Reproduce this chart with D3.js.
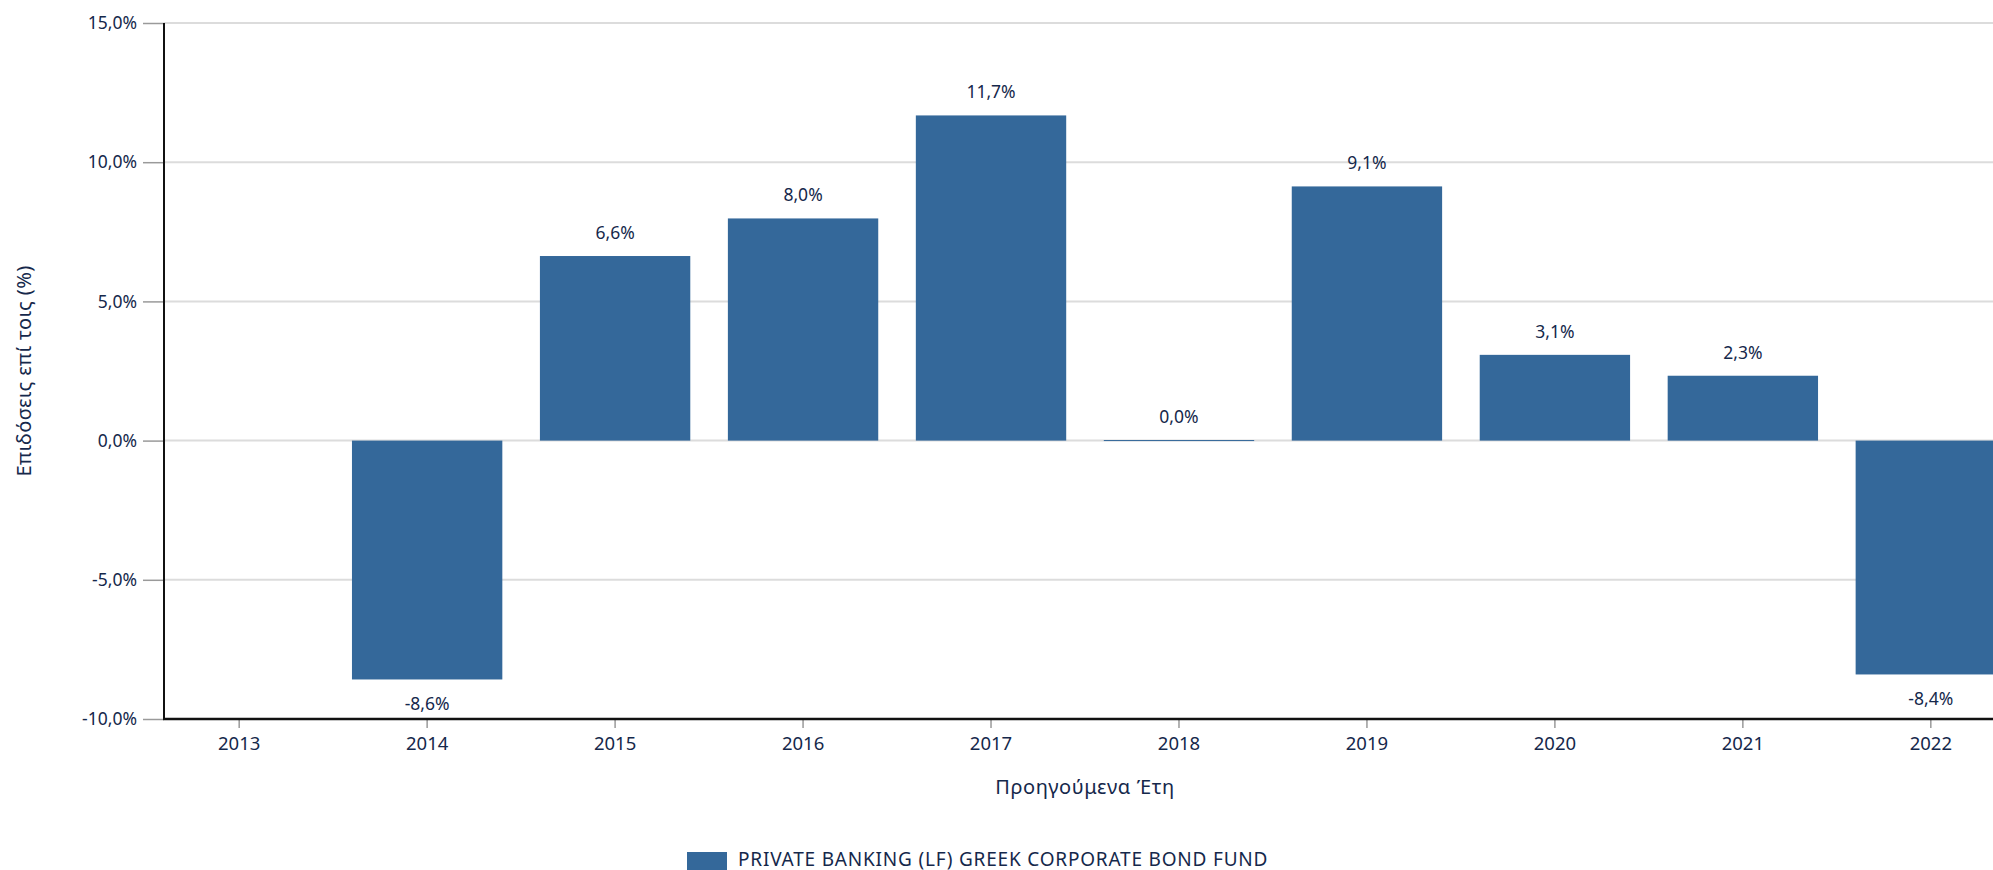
<!DOCTYPE html>
<html>
<head>
<meta charset="utf-8">
<script src="https://cdn.jsdelivr.net/npm/d3@7"></script>
<style>
  html, body { margin: 0; padding: 0; background: #fff; overflow: hidden; }
  svg { display: block; font-family: "Noto Sans", sans-serif; }
</style>
</head>
<body>
<svg id="chart" width="1993" height="870"></svg>
<script>
// data
const years = ["2013", "2014", "2015", "2016", "2017", "2018", "2019", "2020", "2021", "2022"];
const returns = [null, -8.58, 6.63, 7.98, 11.68, 0.02, 9.13, 3.08, 2.33, -8.4];
const yTicks = [-10, -5, 0, 5, 10, 15];
const seriesName = "PRIVATE BANKING (LF) GREEK CORPORATE BOND FUND";
const yTitle = "Επιδόσεις επί τοις (%)";
const xTitle = "Προηγούμενα Έτη";

const barColor = "#34689a";
const textColor = "#15284b";

const margin = { top: 23, left: 164 };
const plotRight = 2006; // the chart runs off the right edge like the original
const plotBottom = 719;

// comma decimals, plain hyphen for negatives
const fmt = (v) => v.toFixed(1).replace(".", ",") + "%";

const svg = d3.select("#chart");

const x = d3
  .scaleBand()
  .domain(years)
  .range([margin.left, plotRight])
  .paddingInner(0.2)
  .paddingOuter(0);

const y = d3.scaleLinear().domain([-10, 15]).range([plotBottom, margin.top]);

// gridlines
svg
  .append("g")
  .selectAll("line")
  .data(yTicks)
  .enter()
  .append("line")
  .attr("x1", margin.left)
  .attr("x2", plotRight)
  .attr("y1", (d) => y(d))
  .attr("y2", (d) => y(d))
  .style("stroke", "#dcdcdc")
  .style("stroke-width", 2);

// bars
const data = years.map((yr, i) => ({ year: yr, value: returns[i] })).filter((d) => d.value !== null);

svg
  .append("g")
  .selectAll("rect")
  .data(data)
  .enter()
  .append("rect")
  .attr("x", (d) => x(d.year))
  .attr("width", x.bandwidth())
  .attr("y", (d) => y(Math.max(0, d.value)))
  .attr("height", (d) => Math.max(1, Math.abs(y(d.value) - y(0))))
  .style("fill", barColor);

// value labels
svg
  .append("g")
  .selectAll("text")
  .data(data)
  .enter()
  .append("text")
  .attr("x", (d) => x(d.year) + x.bandwidth() / 2)
  .attr("y", (d) => (d.value >= 0 ? y(d.value) - 24 : y(d.value) + 24))
  .attr("text-anchor", "middle")
  .attr("dominant-baseline", "central")
  .style("fill", textColor)
  .style("font-size", "17.5px")
  .text((d) => fmt(d.value));

// y axis
const yAxis = d3.axisLeft(y).tickValues(yTicks).tickSize(21).tickPadding(6).tickFormat(fmt);
const gy = svg.append("g").attr("transform", `translate(${margin.left},0)`).call(yAxis);
gy.select(".domain").remove();
gy.selectAll(".tick line").style("stroke", "#9a9a9a").style("stroke-width", 1.5);
gy.selectAll("text").style("fill", textColor).style("font-size", "17.5px").style("font-family", "Noto Sans");

svg
  .append("line")
  .attr("x1", margin.left)
  .attr("x2", margin.left)
  .attr("y1", margin.top)
  .attr("y2", plotBottom)
  .style("stroke", "#111")
  .style("stroke-width", 2);

// x axis
const xAxis = d3.axisBottom(x).tickSize(9).tickPadding(9);
const gx = svg.append("g").attr("transform", `translate(0,${plotBottom})`).call(xAxis);
gx.select(".domain").remove();
gx.selectAll(".tick line").style("stroke", "#9a9a9a").style("stroke-width", 1.5);
gx.selectAll("text").style("fill", textColor).style("font-size", "18.5px").style("font-family", "Noto Sans");

svg
  .append("line")
  .attr("x1", margin.left - 1)
  .attr("x2", plotRight)
  .attr("y1", plotBottom)
  .attr("y2", plotBottom)
  .style("stroke", "#111")
  .style("stroke-width", 2.5);

// axis titles
svg
  .append("text")
  .attr("transform", `translate(23,${(margin.top + plotBottom) / 2}) rotate(-90)`)
  .attr("text-anchor", "middle")
  .attr("dominant-baseline", "central")
  .style("fill", textColor)
  .style("font-size", "20px")
  .style("letter-spacing", "0.4px")
  .text(yTitle);

svg
  .append("text")
  .attr("x", (margin.left + plotRight) / 2)
  .attr("y", 786)
  .attr("text-anchor", "middle")
  .attr("dominant-baseline", "central")
  .style("fill", textColor)
  .style("font-size", "20px")
  .style("letter-spacing", "0.6px")
  .text(xTitle);

// legend
const legend = svg.append("g").attr("transform", "translate(687,852)");
legend.append("rect").attr("width", 40).attr("height", 20).style("fill", barColor);
legend
  .append("text")
  .attr("x", 51)
  .attr("y", 14)
  .style("fill", textColor)
  .style("font-size", "19px")
  .style("letter-spacing", "0.8px")
  .text(seriesName);
</script>
</body>
</html>
